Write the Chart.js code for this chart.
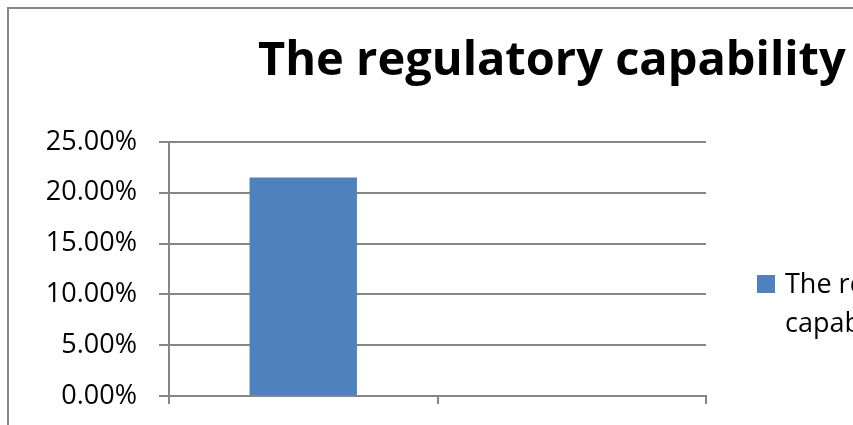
<!DOCTYPE html>
<html>
<head>
    <meta charset="utf-8" />
    <title>The regulatory capability</title>
    <script src="https://cdn.jsdelivr.net/npm/chart.js@4.4.1/dist/chart.umd.min.js"></script>
    <style>
        html, body { margin: 0; padding: 0; background: #fff; overflow: hidden; }
    </style>
</head>
<body>
    <canvas id="myChart" width="853" height="425"></canvas>

    <script>
        // chart data
        const categories = ['1', '2'];
        const seriesName = 'The regulatory capability';
        const seriesValues = [0.215, 0];
        const yTicks = [0, 0.05, 0.10, 0.15, 0.20, 0.25];

        const gray = '#868686';
        const barColor = '#4f81bd';

        // frame, title and legend drawn like the excel chart (they run off the right edge)
        const excelBits = {
            id: 'excelBits',
            afterDraw(chart) {
                const ctx = chart.ctx;
                ctx.save();
                ctx.strokeStyle = gray;
                ctx.lineWidth = 2;
                ctx.strokeRect(8, 8, 1200, 1200);

                ctx.fillStyle = '#000';
                ctx.textAlign = 'left';
                ctx.textBaseline = 'alphabetic';
                ctx.font = 'bold 47px "Open Sans"';
                ctx.fillText(seriesName, 258, 75);

                const ds = chart.data.datasets[0];
                ctx.fillStyle = ds.backgroundColor;
                ctx.fillRect(757, 275, 18, 18);
                ctx.fillStyle = '#000';
                ctx.font = '27px "Open Sans"';
                ctx.fillText('The regulatory', 785, 293);
                ctx.fillText('capability', 785, 332);
                ctx.restore();
            }
        };

        let myChart = document.getElementById('myChart').getContext('2d');
        let popChart = new Chart(myChart, {
            type: 'bar',
            data: {
                labels: categories,
                datasets: [{
                    label: seriesName,
                    data: seriesValues,
                    backgroundColor: barColor,
                    borderWidth: 0,
                    barPercentage: 0.4,
                    categoryPercentage: 1
                }]
            },
            options: {
                responsive: false,
                animation: false,
                layout: {
                    padding: { left: 8, top: 142, right: 147, bottom: 0 }
                },
                plugins: {
                    legend: { display: false },
                    title: { display: false },
                    tooltip: { enabled: false }
                },
                scales: {
                    x: {
                        grid: {
                            drawOnChartArea: false,
                            color: gray,
                            lineWidth: 2,
                            tickLength: 8
                        },
                        border: { color: gray, width: 2 },
                        ticks: { display: false },
                        afterFit: s => { s.height = 29; s.paddingLeft = 0; s.paddingRight = 0; }
                    },
                    y: {
                        min: 0,
                        max: 0.25,
                        afterBuildTicks: s => { s.ticks = yTicks.map(v => ({ value: v })); },
                        grid: {
                            color: gray,
                            lineWidth: 2,
                            tickLength: 10
                        },
                        border: { color: gray, width: 2 },
                        ticks: {
                            padding: 22,
                            color: '#000',
                            font: { family: 'Open Sans', size: 27 },
                            callback: v => (v * 100).toFixed(2) + '%'
                        },
                        afterFit: s => { s.width = 161; s.paddingTop = 0; s.paddingBottom = 0; }
                    }
                }
            },
            plugins: [excelBits]
        });
    </script>
</body>
</html>
